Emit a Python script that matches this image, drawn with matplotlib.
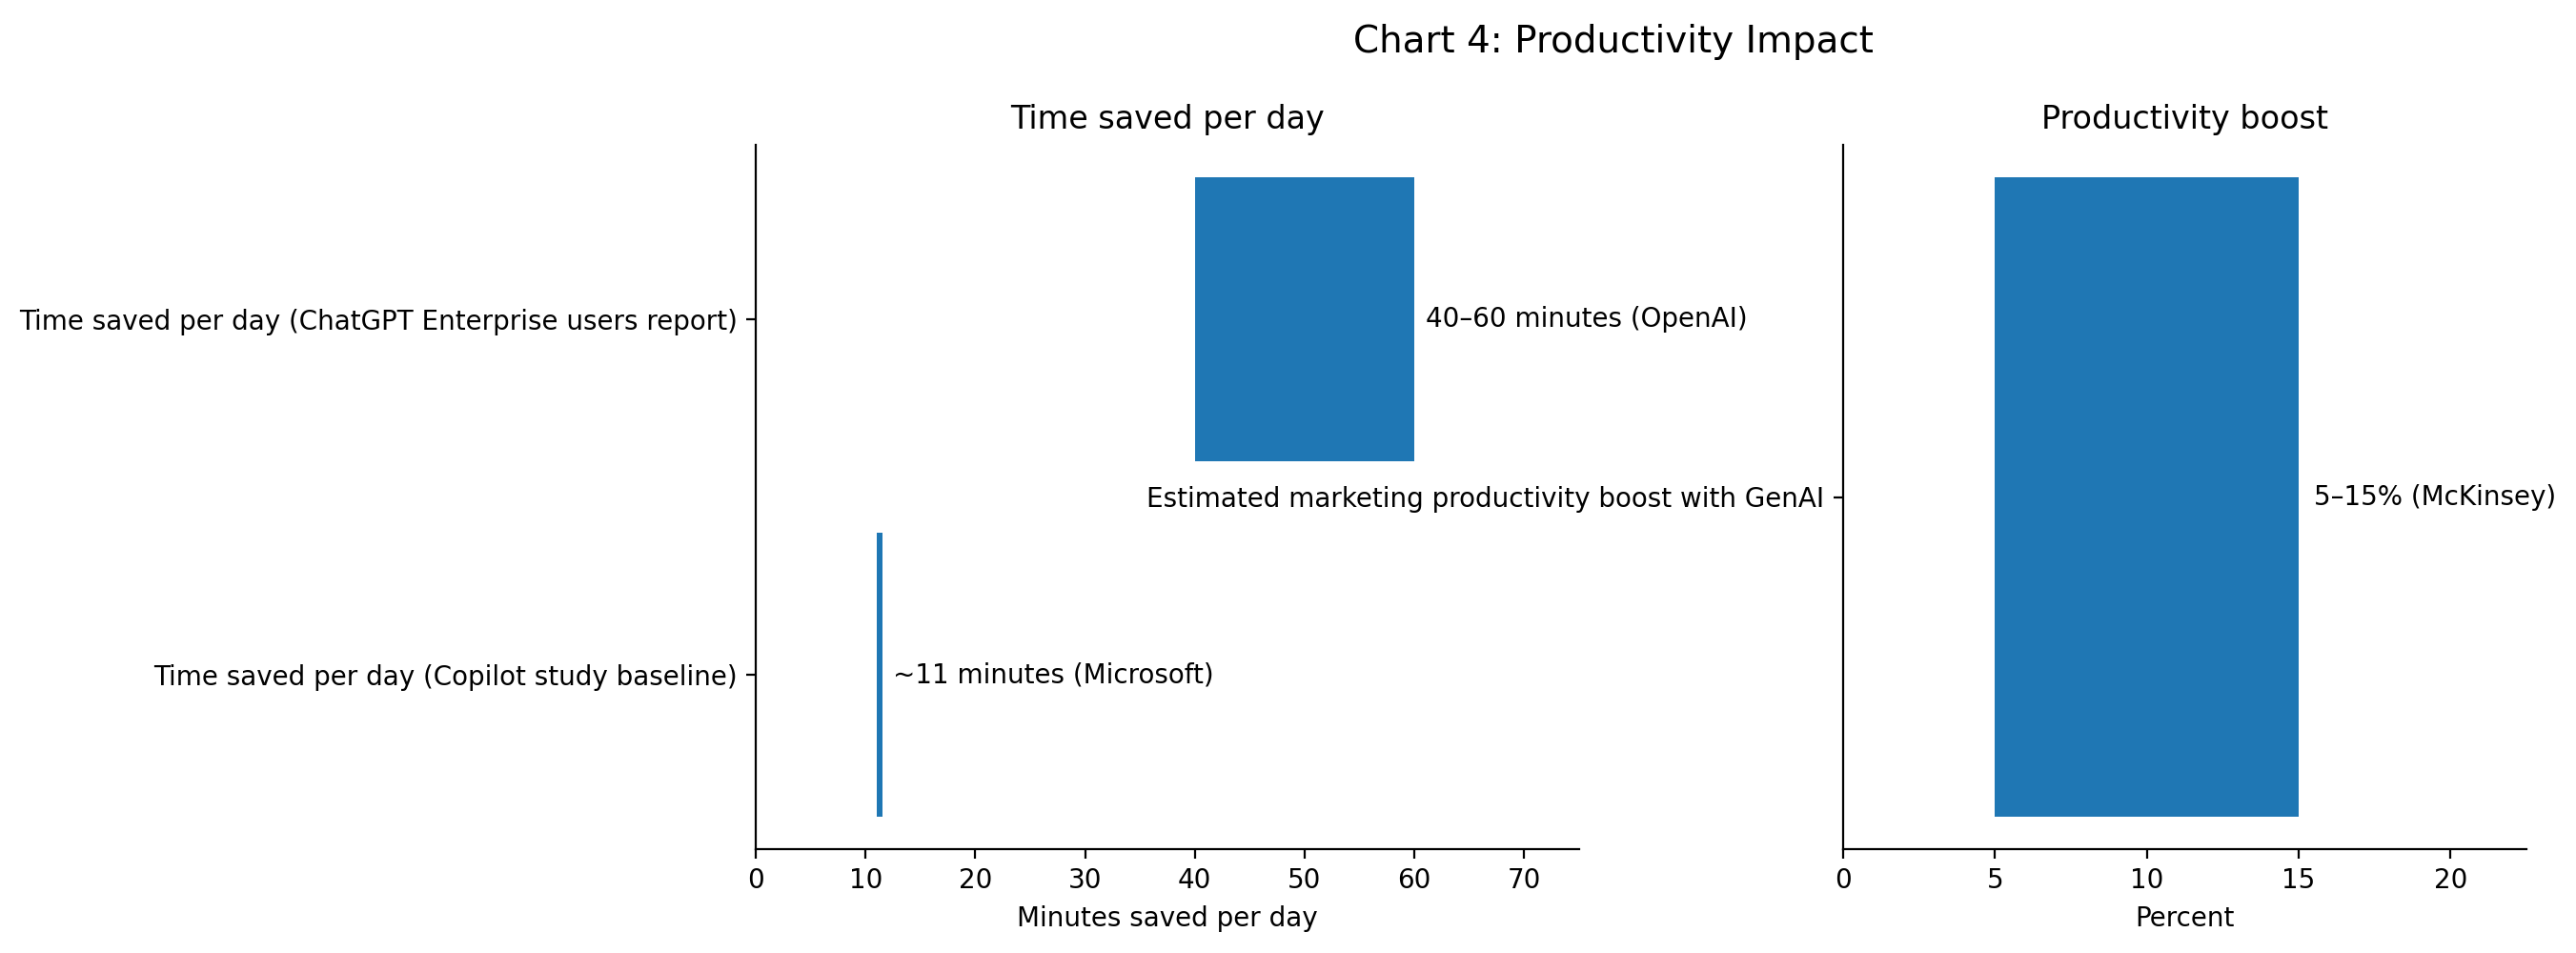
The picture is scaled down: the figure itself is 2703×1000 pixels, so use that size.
import matplotlib
matplotlib.use('Agg')
import matplotlib.pyplot as plt

# left panel: minutes saved per day
time_labels = ['Time saved per day (Copilot study baseline)',
               'Time saved per day (ChatGPT Enterprise users report)']
time_low = [11, 40]
time_high = [11.5, 60]
time_notes = ['~11 minutes (Microsoft)', '40\u201360 minutes (OpenAI)']

# right panel: productivity boost
boost_labels = ['Estimated marketing productivity boost with GenAI']
boost_low = [5]
boost_high = [15]
boost_notes = ['5\u201315% (McKinsey)']

fig = plt.figure(figsize=(13.515, 5), dpi=200)
ax1 = fig.add_axes([0.2934, 0.109, 0.3196, 0.739])
ax2 = fig.add_axes([0.7155, 0.109, 0.2653, 0.739])

y1 = list(range(len(time_labels)))
w1 = [h - l for l, h in zip(time_low, time_high)]
ax1.barh(y1, w1, left=time_low, height=0.8, color='#1f77b4')
for y, h, t in zip(y1, time_high, time_notes):
    ax1.text(h + 1, y, t, va='center', fontsize=10)
ax1.set_yticks(y1)
ax1.set_yticklabels(time_labels, fontsize=10)
ax1.set_xlim(0, 75)
ax1.set_xlabel('Minutes saved per day', fontsize=10)
ax1.set_title('Time saved per day', fontsize=12)

y2 = list(range(len(boost_labels)))
w2 = [h - l for l, h in zip(boost_low, boost_high)]
ax2.barh(y2, w2, left=boost_low, height=0.8, color='#1f77b4')
for y, h, t in zip(y2, boost_high, boost_notes):
    ax2.text(h + 0.5, y, t, va='center', fontsize=10)
ax2.set_yticks(y2)
ax2.set_yticklabels(boost_labels, fontsize=10)
ax2.set_xlim(0, 22.5)
ax2.set_xlabel('Percent', fontsize=10)
ax2.set_title('Productivity boost', fontsize=12)

for ax in (ax1, ax2):
    ax.spines['top'].set_visible(False)
    ax.spines['right'].set_visible(False)
    ax.tick_params(labelsize=10)

fig.suptitle('Chart 4: Productivity Impact', fontsize=14, x=0.6264, y=0.975)

plt.savefig('out.png', dpi=200)
